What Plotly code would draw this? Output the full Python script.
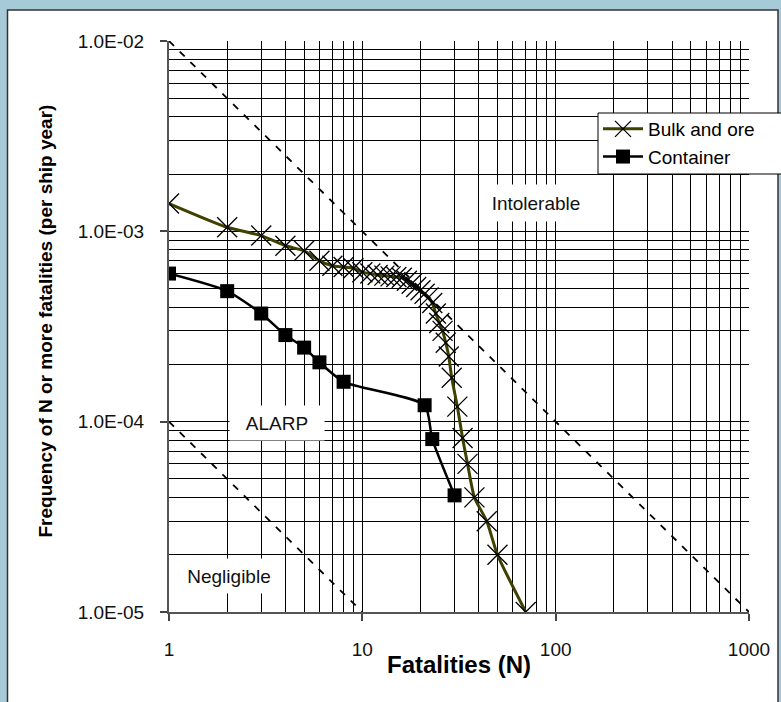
import numpy as np
import plotly.graph_objects as go

# ---------------- data ----------------
bulk_n = [1, 2, 3, 4, 5, 6, 7, 8, 9, 10, 11, 12, 13, 14, 15, 16, 17, 18, 19, 20,
          21, 22, 23, 24, 25, 26, 27, 28, 29, 31, 33, 35, 38, 44, 50, 70]
bulk_f = [1.4e-3, 1.05e-3, 9.5e-4, 8.4e-4, 7.9e-4, 7.0e-4, 6.6e-4, 6.5e-4, 6.4e-4, 6.1e-4,
          6.0e-4, 5.9e-4, 5.85e-4, 5.8e-4, 5.75e-4, 5.7e-4, 5.5e-4, 5.3e-4, 5.1e-4, 4.9e-4,
          4.7e-4, 4.5e-4, 4.2e-4, 3.7e-4, 3.3e-4, 3.0e-4, 2.6e-4, 2.2e-4, 1.7e-4, 1.2e-4,
          8.2e-5, 6.0e-5, 4.0e-5, 3.0e-5, 2.0e-5, 1.0e-5]

cont_n = [1, 2, 3, 4, 5, 6, 8, 21, 23, 30]
cont_f = [6.0e-4, 4.85e-4, 3.7e-4, 2.85e-4, 2.45e-4, 2.05e-4, 1.62e-4, 1.22e-4, 8.1e-5, 4.1e-5]

intolerable_n = [1, 1000]
intolerable_f = [1e-2, 1e-5]
negligible_n = [1, 10]
negligible_f = [1e-4, 1e-5]

x_tickvals = [1, 10, 100, 1000]
x_ticktext = ["1", "10", "100", "1000"]
y_tickvals = [1e-5, 1e-4, 1e-3, 1e-2]
y_ticktext = ["1.0E-05", "1.0E-04", "1.0E-03", "1.0E-02"]

region_labels = ["Intolerable", "ALARP", "Negligible"]
region_n = [79, 3.6, 2.05]
region_f = [1.41e-3, 9.8e-5, 1.55e-5]

# minor grid positions (2..9 in each decade)
x_minor = [m * 10 ** d for d in range(0, 3) for m in range(2, 10)]
y_minor = [m * 10.0 ** d for d in range(-5, -2) for m in range(2, 10)]

# ---------------- layout geometry ----------------
W, H = 781, 702
L, R, T, B = 169, 32, 41, 90
PW, PH = W - L - R, H - T - B

def px(xp):
    return (xp - L) / PW

def py(yp):
    return (H - B - yp) / PH

FONT = "Liberation Sans, Arial, sans-serif"

fig = go.Figure()

fig.add_trace(go.Scatter(x=intolerable_n, y=intolerable_f, mode="lines",
                         line=dict(color="black", width=1.8, dash="7px,8px"),
                         showlegend=False, hoverinfo="skip"))
fig.add_trace(go.Scatter(x=negligible_n, y=negligible_f, mode="lines",
                         line=dict(color="black", width=1.8, dash="7px,8px"),
                         showlegend=False, hoverinfo="skip"))

fig.add_trace(go.Scatter(x=bulk_n, y=bulk_f, name="Bulk and ore", mode="lines+markers",
                         line=dict(color="#404000", width=3, shape="spline", smoothing=0.6),
                         marker=dict(symbol="x-thin-open", size=20, color="black",
                                     line=dict(color="black", width=1.3))))
fig.add_trace(go.Scatter(x=cont_n, y=cont_f, name="Container", mode="lines+markers",
                         line=dict(color="black", width=2.5, shape="spline", smoothing=0.6),
                         marker=dict(symbol="square", size=14, color="black")))

# background panel
fig.add_shape(type="rect", xref="paper", yref="paper",
              x0=px(7.5), x1=px(778), y0=py(720), y1=py(10),
              fillcolor="white", line=dict(color="#333333", width=1.5), layer="below")
# legend box (runs off the right edge as in the original)
fig.add_shape(type="rect", xref="paper", yref="paper",
              x0=px(598), x1=px(800), y0=py(174), y1=py(113),
              fillcolor="white", line=dict(color="black", width=1), layer="above")

box_sizes = [(108, 34), (92, 32), (108, 32)]
for lab, n, f, (bw, bh) in zip(region_labels, region_n, region_f, box_sizes):
    fig.add_annotation(x=np.log10(n), y=np.log10(f), xref="x", yref="y", text=lab,
                       showarrow=False, bgcolor="white", width=bw, height=bh,
                       font=dict(family=FONT, size=19, color="#111"))

# axis titles
fig.add_annotation(x=0.5, y=py(680), xref="paper", yref="paper", text="<b>Fatalities (N)</b>",
                   showarrow=False, font=dict(family=FONT, size=24, color="black"))
fig.add_annotation(x=px(33), y=py(321), xref="paper", yref="paper",
                   text="<b>Frequency of N or more fatalities (per ship year)</b>",
                   textangle=-90, showarrow=False, font=dict(family=FONT, size=19, color="black"))

axis_common = dict(type="log", showgrid=True, gridcolor="black", gridwidth=1,
                   ticks="outside", ticklen=7, tickcolor="#444", tickwidth=1.5,
                   showline=True, linecolor="#555", linewidth=2,
                   tickfont=dict(family=FONT, size=19, color="#111"),
                   zeroline=False)

fig.update_xaxes(range=[0, 3], tickvals=x_tickvals, ticktext=x_ticktext,
                 ticklabelstandoff=12,
                 minor=dict(tickmode="array", tickvals=x_minor, showgrid=True,
                            gridcolor="black", gridwidth=1, ticks=""),
                 **axis_common)
fig.update_yaxes(range=[-5, -2], tickvals=y_tickvals, ticktext=y_ticktext,
                 ticklabelstandoff=12,
                 minor=dict(tickmode="array", tickvals=y_minor, showgrid=True,
                            gridcolor="black", gridwidth=1, ticks=""),
                 **axis_common)

fig.update_layout(
    width=W, height=H, margin=dict(l=L, r=R, t=T, b=B, autoexpand=False),
    paper_bgcolor="#A6CAD8", plot_bgcolor="white",
    font=dict(family=FONT, color="black"),
    legend=dict(x=px(598), y=py(110), xanchor="left", yanchor="top",
                bgcolor="rgba(0,0,0,0)", borderwidth=0,
                font=dict(family=FONT, size=19, color="black"),
                tracegroupgap=0, itemwidth=40),
)

fig.write_html("out.html")
